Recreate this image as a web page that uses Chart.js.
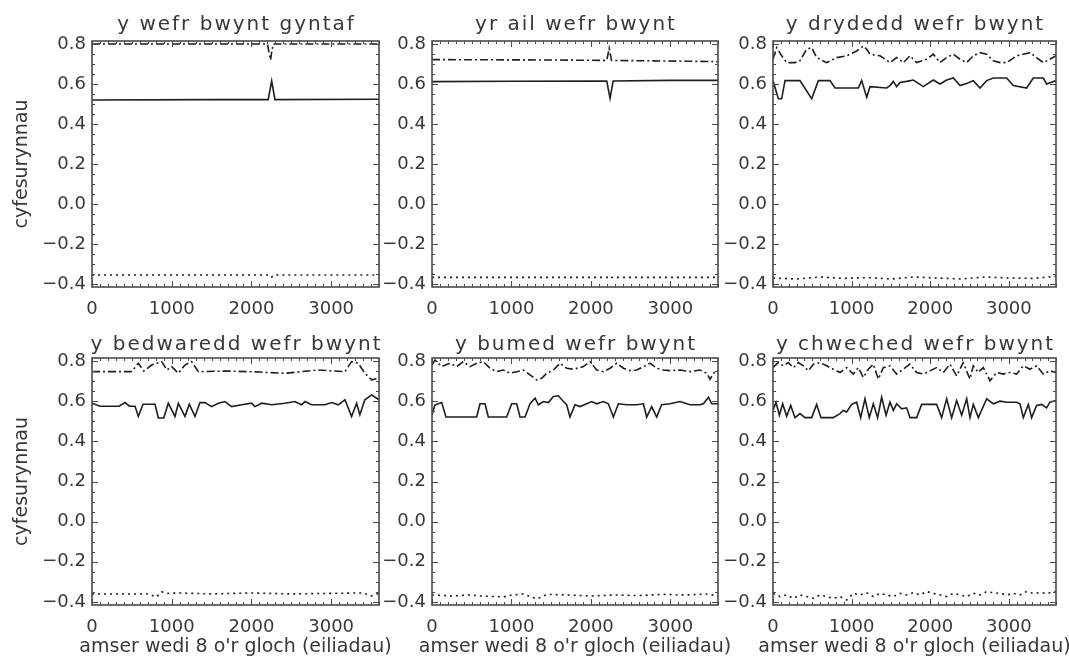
<!DOCTYPE html>
<html>
<head>
<meta charset="utf-8">
<script src="https://cdn.jsdelivr.net/npm/chart.js@4.4.1/dist/chart.umd.min.js"></script>
<style>
  html, body { margin: 0; padding: 0; background: #fff; }
  body { width: 1069px; height: 661px; position: relative; overflow: hidden; }
  canvas { position: absolute; }
</style>
</head>
<body>
<script>
// --- data ---
const X_TICKS = [0, 1000, 2000, 3000];
const Y_TICKS = [-0.4, -0.2, 0.0, 0.2, 0.4, 0.6, 0.8];
const X_MIN = 0, X_MAX = 3600;
const Y_MIN = -0.415, Y_MAX = 0.815;

const TITLES = [
  'y wefr bwynt gyntaf', 'yr ail wefr bwynt', 'y drydedd wefr bwynt',
  'y bedwaredd wefr bwynt', 'y bumed wefr bwynt', 'y chweched wefr bwynt'
];
const X_TITLE = "amser wedi 8 o'r gloch (eiliadau)";
const Y_TITLE = 'cyfesurynnau';

// panel 1
const p1SolidX = [0, 1500, 2210, 2254, 2295, 3600];
const p1SolidY = [0.52, 0.522, 0.522, 0.615, 0.522, 0.524];
const p1DashX = [0, 2200, 2240, 2254, 2275, 3600];
const p1DashY = [0.80, 0.80, 0.72, 0.76, 0.80, 0.80];
const p1DotX = [0, 2230, 2254, 2280, 3600];
const p1DotY = [-0.355, -0.355, -0.365, -0.355, -0.355];

// panel 2
const p2SolidX = [0, 1000, 2200, 2241, 2280, 3000, 3600];
const p2SolidY = [0.612, 0.614, 0.615, 0.528, 0.615, 0.618, 0.618];
const p2DashX = [0, 1500, 2200, 2230, 2260, 3600];
const p2DashY = [0.722, 0.72, 0.718, 0.778, 0.718, 0.712];
const p2DotX = [0, 2220, 2241, 2260, 3600];
const p2DotY = [-0.367, -0.367, -0.36, -0.367, -0.367];

// panel 3
const p3SolidX = [0, 68, 110, 153, 343, 492, 577, 725, 789, 1086, 1128, 1192, 1234, 1446, 1489, 1530, 1573, 1615, 1700, 1785,
  1912, 2039, 2124, 2209, 2294, 2379, 2464, 2548, 2633, 2718, 2803, 2972, 3057, 3226, 3311, 3438, 3480, 3600];
const p3SolidY = [0.617, 0.526, 0.526, 0.617, 0.617, 0.526, 0.617, 0.617, 0.58, 0.58, 0.617, 0.534, 0.587, 0.58, 0.592, 0.613, 0.587, 0.608, 0.613, 0.62,
  0.587, 0.62, 0.60, 0.62, 0.63, 0.592, 0.603, 0.617, 0.58, 0.617, 0.63, 0.63, 0.592, 0.58, 0.63, 0.63, 0.60, 0.617];
const p3DashX = [0, 47, 110, 174, 280, 343, 428, 492, 555, 682, 810, 937, 1064, 1149, 1192, 1234, 1361, 1489, 1573, 1658,
  1743, 1828, 1955, 2039, 2124, 2209, 2294, 2379, 2464, 2548, 2633, 2718, 2803, 2887, 2972, 3099, 3184, 3269, 3353, 3438, 3523, 3600];
const p3DashY = [0.724, 0.782, 0.741, 0.707, 0.707, 0.716, 0.774, 0.782, 0.732, 0.707, 0.732, 0.741, 0.765, 0.79, 0.774, 0.749, 0.741, 0.707, 0.732, 0.707,
  0.741, 0.707, 0.724, 0.749, 0.707, 0.732, 0.749, 0.724, 0.707, 0.741, 0.757, 0.749, 0.716, 0.707, 0.707, 0.741, 0.749, 0.757, 0.732, 0.707, 0.724, 0.741];
const p3DotX = [0, 300, 600, 900, 1200, 1500, 1800, 2100, 2400, 2700, 3000, 3300, 3600];
const p3DotY = [-0.37, -0.375, -0.365, -0.372, -0.368, -0.375, -0.365, -0.37, -0.375, -0.365, -0.37, -0.372, -0.362];

// panel 4
const p4SolidX = [0, 100, 340, 414, 470, 540, 581, 640, 790, 832, 900, 957, 1041, 1083, 1166, 1220, 1292, 1354, 1417, 1500,
  1584, 1668, 1751, 1877, 2002, 2044, 2128, 2253, 2420, 2545, 2629, 2671, 2754, 2922, 3006, 3089, 3173, 3256, 3319, 3360, 3423, 3507, 3600];
const p4SolidY = [0.59, 0.575, 0.575, 0.593, 0.575, 0.575, 0.524, 0.585, 0.585, 0.516, 0.516, 0.59, 0.524, 0.59, 0.524, 0.585, 0.524, 0.593, 0.593, 0.573,
  0.59, 0.598, 0.573, 0.582, 0.59, 0.573, 0.59, 0.582, 0.59, 0.598, 0.582, 0.598, 0.582, 0.582, 0.593, 0.582, 0.607, 0.524, 0.59, 0.532, 0.607, 0.631, 0.607];
const p4DashX = [0, 497, 581, 650, 748, 874, 940, 999, 1083, 1166, 1250, 1334, 1700, 2100, 2420, 2838, 3173, 3256, 3340, 3423, 3507, 3600];
const p4DashY = [0.747, 0.747, 0.789, 0.75, 0.78, 0.797, 0.755, 0.772, 0.739, 0.78, 0.797, 0.747, 0.75, 0.745, 0.739, 0.755, 0.747, 0.797, 0.789, 0.739, 0.706, 0.714];
const p4DotX = [0, 700, 810, 874, 950, 1100, 1500, 2000, 2500, 3000, 3400, 3507, 3600];
const p4DotY = [-0.36, -0.36, -0.375, -0.35, -0.357, -0.355, -0.36, -0.355, -0.36, -0.357, -0.355, -0.37, -0.357];

// panel 5
const p5SolidX = [0, 38, 122, 176, 437, 562, 604, 667, 709, 940, 1003, 1066, 1108, 1171, 1234, 1297, 1339, 1402, 1465, 1528,
  1591, 1654, 1695, 1737, 1800, 1863, 1947, 2010, 2073, 2157, 2220, 2283, 2346, 2451, 2577, 2661, 2702, 2765, 2828, 2891,
  2996, 3122, 3248, 3374, 3416, 3480, 3521, 3600];
const p5SolidY = [0.532, 0.582, 0.593, 0.521, 0.521, 0.521, 0.587, 0.587, 0.521, 0.521, 0.587, 0.587, 0.521, 0.521, 0.587, 0.615, 0.582, 0.598, 0.593, 0.623,
  0.627, 0.598, 0.582, 0.521, 0.582, 0.573, 0.587, 0.598, 0.587, 0.598, 0.587, 0.521, 0.587, 0.582, 0.582, 0.587, 0.521, 0.573, 0.521, 0.582,
  0.587, 0.598, 0.582, 0.582, 0.587, 0.62, 0.587, 0.587];
const p5DashX = [0, 38, 122, 227, 311, 395, 479, 562, 646, 730, 814, 898, 982, 1066, 1150, 1234, 1318, 1381, 1444, 1528,
  1612, 1695, 1779, 1905, 1989, 2073, 2157, 2241, 2325, 2409, 2493, 2577, 2661, 2744, 2828, 2912, 2996, 3122, 3248, 3374,
  3458, 3500, 3542, 3600];
const p5DashY = [0.78, 0.805, 0.772, 0.789, 0.772, 0.797, 0.772, 0.789, 0.797, 0.764, 0.747, 0.755, 0.739, 0.747, 0.755, 0.731, 0.706, 0.714, 0.739, 0.755,
  0.789, 0.764, 0.759, 0.772, 0.797, 0.755, 0.747, 0.764, 0.789, 0.764, 0.752, 0.755, 0.772, 0.789, 0.764, 0.755, 0.752, 0.755, 0.747, 0.755,
  0.739, 0.709, 0.739, 0.755];
const p5DotX = [0, 250, 480, 600, 900, 1000, 1150, 1318, 1450, 1700, 2000, 2300, 2600, 2900, 3200, 3450, 3600];
const p5DotY = [-0.365, -0.37, -0.365, -0.37, -0.375, -0.365, -0.36, -0.385, -0.362, -0.365, -0.37, -0.365, -0.368, -0.362, -0.365, -0.36, -0.37];

// panel 6
const p6SolidX = [0, 38, 81, 123, 174, 225, 280, 343, 407, 492, 555, 610, 767, 852, 895, 937, 1001, 1064, 1115, 1170,
  1225, 1276, 1331, 1382, 1438, 1488, 1531, 1573, 1637, 1700, 1743, 1828, 1891, 2039, 2082, 2145, 2209, 2273, 2336, 2400,
  2464, 2506, 2548, 2612, 2718, 2803, 2887, 2972, 3099, 3142, 3184, 3248, 3290, 3353, 3417, 3480, 3523, 3600];
const p6SolidY = [0.554, 0.595, 0.53, 0.587, 0.525, 0.579, 0.518, 0.538, 0.518, 0.518, 0.584, 0.518, 0.518, 0.538, 0.554, 0.546, 0.584, 0.595, 0.518, 0.612,
  0.518, 0.587, 0.518, 0.62, 0.53, 0.595, 0.554, 0.587, 0.562, 0.567, 0.518, 0.518, 0.584, 0.584, 0.584, 0.518, 0.612, 0.518, 0.603, 0.53,
  0.612, 0.518, 0.584, 0.518, 0.612, 0.587, 0.60, 0.595, 0.595, 0.587, 0.518, 0.584, 0.518, 0.579, 0.584, 0.567, 0.595, 0.603];
const p6DashX = [0, 64, 131, 195, 259, 322, 386, 450, 513, 598, 683, 767, 852, 937, 1022, 1085, 1149, 1212, 1276, 1340,
  1403, 1488, 1573, 1657, 1742, 1827, 1912, 1996, 2081, 2166, 2251, 2336, 2420, 2505, 2548, 2611, 2675, 2760, 2845, 2929,
  3014, 3099, 3184, 3268, 3353, 3438, 3523, 3600];
const p6DashY = [0.767, 0.792, 0.776, 0.792, 0.767, 0.792, 0.776, 0.751, 0.784, 0.792, 0.776, 0.759, 0.743, 0.767, 0.735, 0.767, 0.718, 0.759, 0.784, 0.71,
  0.767, 0.776, 0.735, 0.759, 0.784, 0.743, 0.735, 0.751, 0.767, 0.743, 0.784, 0.726, 0.792, 0.71, 0.776, 0.743, 0.767, 0.702, 0.743, 0.735,
  0.743, 0.735, 0.776, 0.759, 0.776, 0.735, 0.751, 0.743];
const p6DotX = [0, 89, 174, 259, 343, 428, 513, 598, 682, 767, 852, 937, 1022, 1106, 1191, 1276, 1361, 1446, 1530, 1615,
  1700, 1785, 1870, 1954, 2039, 2124, 2209, 2294, 2378, 2463, 2548, 2633, 2718, 2802, 2887, 2972, 3057, 3142, 3226, 3311,
  3396, 3481, 3600];
const p6DotY = [-0.357, -0.373, -0.365, -0.382, -0.365, -0.373, -0.382, -0.365, -0.373, -0.382, -0.373, -0.39, -0.357, -0.365, -0.354, -0.373, -0.357, -0.365, -0.373, -0.357,
  -0.365, -0.354, -0.365, -0.348, -0.357, -0.365, -0.373, -0.357, -0.365, -0.373, -0.357, -0.365, -0.348, -0.354, -0.357, -0.365, -0.357, -0.365, -0.348, -0.357,
  -0.354, -0.357, -0.348];

const PANELS = [
  { solid: [p1SolidX, p1SolidY], dash: [p1DashX, p1DashY], dot: [p1DotX, p1DotY] },
  { solid: [p2SolidX, p2SolidY], dash: [p2DashX, p2DashY], dot: [p2DotX, p2DotY] },
  { solid: [p3SolidX, p3SolidY], dash: [p3DashX, p3DashY], dot: [p3DotX, p3DotY] },
  { solid: [p4SolidX, p4SolidY], dash: [p4DashX, p4DashY], dot: [p4DotX, p4DotY] },
  { solid: [p5SolidX, p5SolidY], dash: [p5DashX, p5DashY], dot: [p5DotX, p5DotY] },
  { solid: [p6SolidX, p6SolidY], dash: [p6DashX, p6DashY], dot: [p6DotX, p6DotY] }
];

// --- layout ---
const COLS = [{ l: 92, r: 379, axW: 92 }, { l: 432, r: 718, axW: 50 }, { l: 773, r: 1056, axW: 50 }];
const ROWS = [{ t: 41, b: 287, topH: 41, botH: 30, gap: 11 }, { t: 358, b: 605, topH: 40, botH: 56, gap: 8 }];
const RIGHT_PAD = 22; // room for the x title that runs past the box
const FONT = 'DejaVu Sans';
const TEXT_COLOR = '#383838';
const LINE_COLOR = '#1e1e1e';
const AXIS_COLOR = '#4a4a4a';

// panel title above the box (letter-spaced) and, on the bottom row, the x title
// drawn without the width clamp Chart.js applies to scale titles
const panelText = {
  id: 'panelText',
  afterDraw(chart, args, opts) {
    const { ctx, chartArea } = chart;
    const cx = (chartArea.left + chartArea.right) / 2;
    ctx.save();
    ctx.fillStyle = TEXT_COLOR;
    ctx.textAlign = 'center';
    ctx.font = `20px "${FONT}"`;
    if ('letterSpacing' in ctx) ctx.letterSpacing = '2px';
    ctx.textBaseline = 'alphabetic';
    ctx.fillText(opts.title, cx + 1, chartArea.top - opts.gap);
    if ('letterSpacing' in ctx) ctx.letterSpacing = '0px';
    if (opts.xTitle) {
      ctx.font = `19px "${FONT}"`;
      ctx.textBaseline = 'middle';
      ctx.fillText(opts.xTitle, cx, chartArea.bottom + 42);
    }
    ctx.restore();
  }
};

// closed box with inward major/minor ticks on all four sides
const idlBox = {
  id: 'idlBox',
  afterDraw(chart) {
    const { ctx, chartArea: a } = chart;
    const xs = chart.scales.x, ys = chart.scales.y;
    ctx.save();
    ctx.strokeStyle = AXIS_COLOR;
    ctx.lineWidth = 1;
    ctx.beginPath();
    for (let v = X_MIN; v <= X_MAX; v += 100) {
      const px = Math.round(xs.getPixelForValue(v)) + 0.5;
      const len = v % 1000 === 0 ? 6 : 3;
      ctx.moveTo(px, a.bottom); ctx.lineTo(px, a.bottom - len);
      ctx.moveTo(px, a.top); ctx.lineTo(px, a.top + len);
    }
    for (let k = -8; k <= 16; k++) {
      const py = Math.round(ys.getPixelForValue(k * 0.05)) + 0.5;
      const len = k % 4 === 0 ? 6 : 3;
      ctx.moveTo(a.left, py); ctx.lineTo(a.left + len, py);
      ctx.moveTo(a.right, py); ctx.lineTo(a.right - len, py);
    }
    ctx.stroke();
    ctx.lineWidth = 1.6;
    ctx.strokeRect(a.left, a.top, a.right - a.left, a.bottom - a.top);
    ctx.restore();
  }
};

function yLabel(v) {
  if (Math.abs(v) < 1e-9) return '0.0';
  const s = v.toFixed(1);
  return s.startsWith('-') ? '\u2212' + s.slice(1) : s;
}

function series(pair, dash) {
  const [xs, ys] = pair;
  return {
    data: xs.map((x, i) => ({ x: x, y: ys[i] })),
    borderColor: LINE_COLOR,
    borderWidth: 1.6,
    borderDash: dash,
    pointRadius: 0,
    tension: 0,
    fill: false
  };
}

function makePanel(i) {
  const col = COLS[i % 3], row = ROWS[Math.floor(i / 3)];
  const w = col.axW + (col.r - col.l) + RIGHT_PAD;
  const h = row.topH + (row.b - row.t) + row.botH;
  const canvas = document.createElement('canvas');
  canvas.width = w;
  canvas.height = h;
  canvas.style.left = (col.l - col.axW) + 'px';
  canvas.style.top = (row.t - row.topH) + 'px';
  canvas.style.width = w + 'px';
  canvas.style.height = h + 'px';
  document.body.appendChild(canvas);

  const p = PANELS[i];
  const isBottom = i >= 3, isLeft = i % 3 === 0;

  new Chart(canvas.getContext('2d'), {
    type: 'line',
    data: {
      datasets: [
        series(p.solid, []),
        series(p.dash, [8, 3, 2, 3]),
        series(p.dot, [2, 4])
      ]
    },
    options: {
      responsive: false,
      animation: false,
      devicePixelRatio: 1,
      layout: { padding: { top: row.topH, right: RIGHT_PAD, left: 0, bottom: 0 } },
      plugins: {
        legend: { display: false },
        tooltip: { enabled: false },
        panelText: { title: TITLES[i], gap: row.gap, xTitle: isBottom ? X_TITLE : '' }
      },
      scales: {
        x: {
          type: 'linear',
          min: X_MIN,
          max: X_MAX,
          afterBuildTicks: s => { s.ticks = X_TICKS.map(v => ({ value: v })); },
          afterFit: s => { s.height = row.botH; },
          grid: { display: false, drawTicks: false },
          border: { display: false },
          ticks: {
            color: TEXT_COLOR,
            font: { family: FONT, size: 18 },
            padding: 12,
            maxRotation: 0,
            callback: v => String(v)
          }
        },
        y: {
          type: 'linear',
          min: Y_MIN,
          max: Y_MAX,
          afterBuildTicks: s => { s.ticks = Y_TICKS.map(v => ({ value: v })); },
          afterFit: s => { s.width = col.axW; },
          grid: { display: false, drawTicks: false },
          border: { display: false },
          ticks: {
            color: TEXT_COLOR,
            font: { family: FONT, size: 18 },
            padding: 6,
            callback: v => yLabel(v)
          },
          title: {
            display: isLeft,
            text: Y_TITLE,
            color: TEXT_COLOR,
            font: { family: FONT, size: 19 },
            padding: { top: 11, bottom: 0 }
          }
        }
      }
    },
    plugins: [panelText, idlBox]
  });
}

for (let i = 0; i < 6; i++) makePanel(i);
</script>
</body>
</html>
